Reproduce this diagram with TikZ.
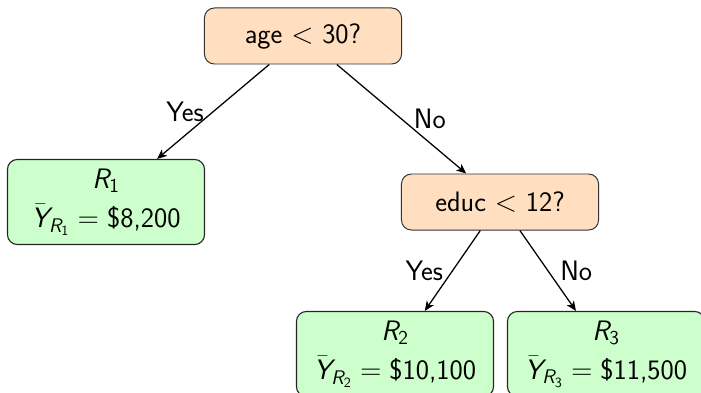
\documentclass[tikz,border=0pt]{standalone}
\usepackage{amsmath}
\usepackage{tikz}
\usetikzlibrary{arrows.meta}
\newcommand{\sfv}[1]{\text{\itshape #1}}
\tikzset{
  split/.style={draw=black!80, line width=0.7pt, fill=orange!25, rounded corners=7pt,
    minimum width=4.925cm, minimum height=1.4cm},
  leaf/.style={draw=black!85, line width=0.8pt, fill=green!20, rounded corners=7pt,
    minimum width=4.925cm, minimum height=2.125cm, align=center},
  edge/.style={draw=black, line width=0.9pt, -{Stealth[length=7pt,width=6pt,inset=2pt]}}
}

\begin{document}
\begin{tikzpicture}[x=0.025cm, y=-0.025cm,
  every node/.style={font=\fontsize{20}{24}\selectfont\sffamily}]
\useasboundingbox (0,0) rectangle (701,393);
\clip (0,0) rectangle (701,393);
\node[split] (age) at (303,36) {age $<$ 30?};
\node[leaf] (rone) at (106,202) {$\sfv{R}_{\text{1}}$\\[4pt] $\bar{\sfv{Y}}_{\sfv{R}_{\text{1}}} = \text{\$8,200}$};
\node[split] (educ) at (500,202) {educ $<$ 12?};
\node[leaf] (rtwo) at (395,354) {$\sfv{R}_{\text{2}}$\\[4pt] $\bar{\sfv{Y}}_{\sfv{R}_{\text{2}}} = \text{\$10,100}$};
\node[leaf] (rthree) at (606,354) {$\sfv{R}_{\text{3}}$\\[4pt] $\bar{\sfv{Y}}_{\sfv{R}_{\text{3}}} = \text{\$11,500}$};

\draw[edge] (age) -- node[midway, left, xshift=-3pt] {Yes} (rone);
\draw[edge] (age) -- node[midway, right, xshift=5pt] {No} (educ);
\draw[edge] (educ) -- node[midway, left, xshift=-3pt] {Yes} (rtwo);
\draw[edge] (educ) -- node[midway, right, xshift=5pt] {No} (rthree);
\end{tikzpicture}
\end{document}
